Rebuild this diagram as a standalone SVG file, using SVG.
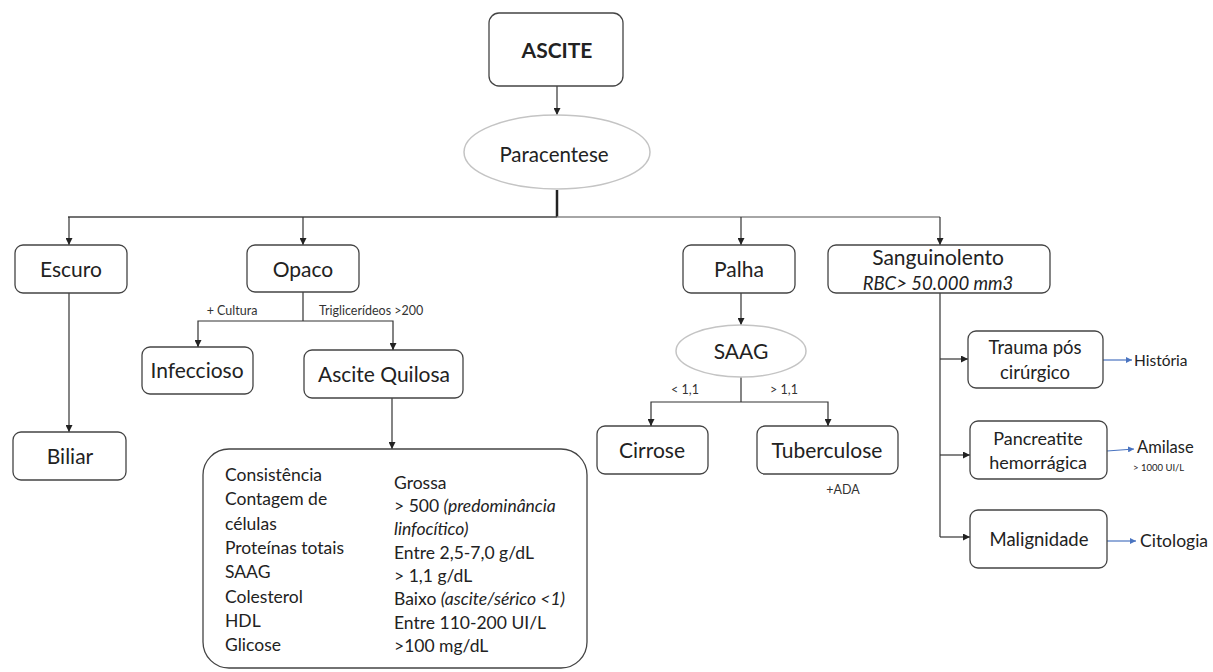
<svg xmlns="http://www.w3.org/2000/svg" width="1213" height="672" viewBox="0 0 1213 672">
<style>
.box{fill:#fff;stroke:#444;stroke-width:1.3}
.ell{fill:#fff;stroke:#c4c4c4;stroke-width:1.5}
.t{font-family:Lato,"Open Sans","Liberation Sans",sans-serif;fill:#222;text-anchor:middle}
.n{font-size:21px}
.s{font-size:12.5px;fill:#333}
.b{font-size:17.5px;text-anchor:start}
.ln{fill:none;stroke:#333;stroke-width:1.2}
.bl{fill:none;stroke:#4a74c0;stroke-width:1.2}
</style>
<defs>
<marker id="ah" viewBox="0 0 10 10" refX="10" refY="5" markerWidth="7" markerHeight="7" markerUnits="userSpaceOnUse" orient="auto"><path d="M0,0 L10,5 L0,10 z" fill="#222"/></marker>
<marker id="ahb" viewBox="0 0 10 10" refX="10" refY="5" markerWidth="6" markerHeight="6" markerUnits="userSpaceOnUse" orient="auto"><path d="M0,0 L10,5 L0,10 z" fill="#4a74c0"/></marker>
</defs>
<rect width="1213" height="672" fill="#fff"/>
<g id="connectors">
<line class="ln" x1="557" y1="86" x2="557" y2="115" marker-end="url(#ah)"/>
<line x1="557" y1="190" x2="557" y2="217" stroke="#222" stroke-width="2.5"/>
<line x1="68" y1="217" x2="557" y2="217" stroke="#444" stroke-width="1.6"/>
<line x1="557" y1="217" x2="940" y2="217" stroke="#888" stroke-width="1.6"/>
<line class="ln" x1="69" y1="217" x2="69" y2="245" marker-end="url(#ah)"/>
<line class="ln" x1="303" y1="217" x2="303" y2="245" marker-end="url(#ah)"/>
<line class="ln" x1="741" y1="217" x2="741" y2="245" marker-end="url(#ah)"/>
<line class="ln" x1="940" y1="217" x2="940" y2="245" marker-end="url(#ah)"/>
<line class="ln" x1="69" y1="293" x2="69" y2="432" marker-end="url(#ah)"/>
<line class="ln" x1="303" y1="292" x2="303" y2="321"/>
<polyline class="ln" points="198,347 198,321 393,321 393,350" />
<line class="ln" x1="198" y1="340" x2="198" y2="347" marker-end="url(#ah)"/>
<line class="ln" x1="393" y1="343" x2="393" y2="350" marker-end="url(#ah)"/>
<line class="ln" x1="392" y1="398" x2="392" y2="449" marker-end="url(#ah)"/>
<line class="ln" x1="741" y1="293" x2="741" y2="325" marker-end="url(#ah)"/>
<polyline class="ln" points="651,426 651,402 828,402 828,426"/>
<line class="ln" x1="741" y1="377" x2="741" y2="402"/>
<line class="ln" x1="651" y1="419" x2="651" y2="426" marker-end="url(#ah)"/>
<line class="ln" x1="828" y1="419" x2="828" y2="426" marker-end="url(#ah)"/>
<line class="ln" x1="940" y1="293" x2="940" y2="537"/>
<line class="ln" x1="940" y1="359" x2="968" y2="359" marker-end="url(#ah)"/>
<line class="ln" x1="940" y1="455" x2="970" y2="455" marker-end="url(#ah)"/>
<line class="ln" x1="940" y1="537" x2="970" y2="537" marker-end="url(#ah)"/>
<line class="bl" x1="1103" y1="360" x2="1132" y2="360" marker-end="url(#ahb)"/>
<line class="bl" x1="1107" y1="451" x2="1134" y2="449" marker-end="url(#ahb)"/>
<line class="bl" x1="1107" y1="541" x2="1136" y2="541" marker-end="url(#ahb)"/>
<text class="t s" x="232" y="315">+ Cultura</text>
<text class="t s" x="319" y="315" style="text-anchor:start">Triglicerídeos &gt;200</text>
<text class="t s" x="685" y="394" font-size="11">&lt; 1,1</text>
<text class="t s" x="784" y="394" font-size="11">&gt; 1,1</text>
<text class="t s" x="843" y="494" font-size="11">+ADA</text>
</g>
<g id="ascite">
<rect class="box" x="489" y="13" width="134" height="73" rx="10"/>
<text class="t" x="557" y="58" font-size="21" font-weight="bold">ASCITE</text>
</g>
<g id="paracentese">
<ellipse class="ell" cx="557" cy="152" rx="93" ry="37"/>
<text class="t" x="554" y="162" font-size="20.5">Paracentese</text>
</g>
<g id="escuro">
<rect class="box" x="15" y="245" width="112" height="48" rx="8"/>
<text class="t n" x="71" y="277">Escuro</text>
</g>
<g id="opaco">
<rect class="box" x="247" y="245" width="112" height="47" rx="8"/>
<text class="t n" x="303" y="277">Opaco</text>
</g>
<g id="palha">
<rect class="box" x="683" y="245" width="112" height="48" rx="8"/>
<text class="t n" x="739" y="277">Palha</text>
</g>
<g id="sanguinolento">
<rect class="box" x="828" y="245" width="222" height="48" rx="8"/>
<text class="t n" x="938" y="265">Sanguinolento</text>
<text class="t" x="938" y="290" font-style="italic" font-size="18.5">RBC&gt; 50.000 mm3</text>
</g>
<g id="biliar">
<rect class="box" x="13" y="432" width="113" height="48" rx="8"/>
<text class="t n" x="70" y="464">Biliar</text>
</g>
<g id="infeccioso">
<rect class="box" x="142" y="347" width="111" height="47" rx="8"/>
<text class="t n" x="197" y="378">Infeccioso</text>
</g>
<g id="quilosa">
<rect class="box" x="304" y="350" width="159" height="48" rx="8"/>
<text class="t n" x="384" y="382">Ascite Quilosa</text>
</g>
<g id="saag">
<ellipse class="ell" cx="741" cy="351" rx="65" ry="26"/>
<text class="t n" x="741" y="359">SAAG</text>
</g>
<g id="cirrose">
<rect class="box" x="597" y="426" width="111" height="48" rx="8"/>
<text class="t n" x="652" y="458">Cirrose</text>
</g>
<g id="tuberculose">
<rect class="box" x="757" y="426" width="141" height="48" rx="8"/>
<text class="t n" x="827" y="458">Tuberculose</text>
</g>
<g id="trauma">
<rect class="box" x="968" y="331" width="135" height="57" rx="8"/>
<text class="t" x="1035" y="354" font-size="18.5">Trauma pós</text>
<text class="t" x="1035" y="379" font-size="18.5">cirúrgico</text>
</g>
<g id="pancreatite">
<rect class="box" x="970" y="421" width="137" height="58" rx="8"/>
<text class="t" x="1038" y="445" font-size="18">Pancreatite</text>
<text class="t" x="1038" y="469" font-size="18">hemorrágica</text>
</g>
<g id="malignidade">
<rect class="box" x="970" y="510" width="137" height="58" rx="8"/>
<text class="t" x="1039" y="546" font-size="18.5">Malignidade</text>
</g>
<g id="historia"><text class="t" x="1134" y="366" font-size="15.5" style="text-anchor:start">História</text></g>
<g id="amilase">
<text class="t" x="1137" y="453" font-size="16.5" style="text-anchor:start">Amilase</text>
<text class="t" x="1133" y="471" font-size="9.5" style="text-anchor:start">&gt; 1000 UI/L</text>
</g>
<g id="citologia"><text class="t" x="1140" y="547" font-size="17.5" style="text-anchor:start">Citologia</text></g>
<g id="tabela">
<rect class="box" x="203" y="449" width="384" height="219" rx="26"/>
<text class="t b" x="225" y="481">Consistência</text>
<text class="t b" x="225" y="505">Contagem de</text>
<text class="t b" x="225" y="530">células</text>
<text class="t b" x="225" y="554">Proteínas totais</text>
<text class="t b" x="225" y="578">SAAG</text>
<text class="t b" x="225" y="603">Colesterol</text>
<text class="t b" x="225" y="627">HDL</text>
<text class="t b" x="225" y="651">Glicose</text>
<text class="t b" x="394" y="489">Grossa</text>
<text class="t b" x="394" y="512">&gt; 500 <tspan font-style="italic">(predominância</tspan></text>
<text class="t b" x="394" y="535" font-style="italic">linfocítico)</text>
<text class="t b" x="394" y="559">Entre 2,5-7,0 g/dL</text>
<text class="t b" x="394" y="582">&gt; 1,1 g/dL</text>
<text class="t b" x="394" y="605">Baixo <tspan font-style="italic">(ascite/sérico &lt;1)</tspan></text>
<text class="t b" x="394" y="629">Entre 110-200 UI/L</text>
<text class="t b" x="394" y="652">&gt;100 mg/dL</text>
</g>
</svg>
